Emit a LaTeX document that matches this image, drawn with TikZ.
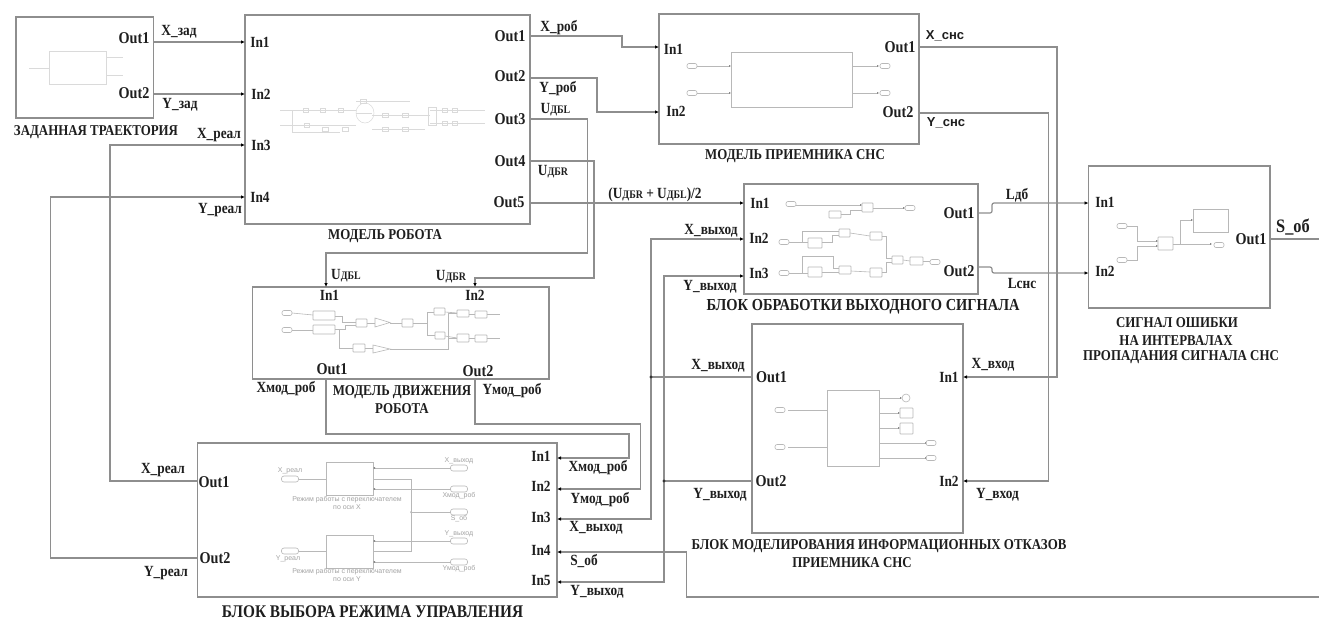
\documentclass[tikz,border=0pt]{standalone}
\usepackage{fontspec}
\setmainfont{Liberation Serif}
\setsansfont{Liberation Sans}
\newfontfamily\condf[FakeStretch=0.86]{Liberation Serif}
\usetikzlibrary{arrows.meta,shapes.geometric}
\definecolor{wirec}{HTML}{8E8E8E}
\definecolor{faint}{HTML}{B8B8B8}
\definecolor{fainter}{HTML}{DADADA}
\definecolor{tinyc}{HTML}{A4A4A4}
\definecolor{inkc}{HTML}{1E1E1E}
\tikzset{
  blockbox/.style={draw=wirec,line width=1.3pt,fill=none,inner sep=0pt,outer sep=0pt},
  wire/.style={draw=wirec,line width=1.2pt,line join=miter},
  arrowwire/.style={wire,-{Latex[length=4pt,width=3.6pt,black]}},
  portlbl/.style={font=\condf\fontsize{15.5}{17}\selectfont\bfseries,text=inkc,inner sep=0pt},
  outlbl/.style={font=\condf\fontsize{16.5}{18}\selectfont\bfseries,text=inkc,inner sep=0pt},
  siglbl/.style={font=\condf\fontsize{15.5}{17}\selectfont\bfseries,text=inkc,inner sep=0pt},
  biglbl/.style={font=\condf\fontsize{19}{21}\selectfont\bfseries,text=inkc,inner sep=0pt},
  sanslbl/.style={font=\sffamily\fontsize{13}{15}\selectfont\bfseries,text=inkc,inner sep=0pt},
  caplbl/.style={font=\condf\fontsize{15}{17}\selectfont\bfseries,text=inkc,inner sep=0pt},
  capmid/.style={font=\condf\fontsize{16.8}{18}\selectfont\bfseries,text=inkc,inner sep=0pt},
  capbig/.style={font=\condf\fontsize{17.8}{20}\selectfont\bfseries,text=inkc,inner sep=0pt},
  tinylbl/.style={font=\sffamily\fontsize{7}{8}\selectfont,text=tinyc,inner sep=0pt},
  inner/.style={draw=faint,line width=0.6pt},
  innerb/.style={draw=fainter,line width=0.5pt},
  innerarrow/.style={inner,-{Latex[length=2pt,width=2pt,gray]}},
}
\newcommand{\blk}[5]{\node[blockbox,minimum width={(#4-#2)*1pt},minimum height={(#5-#3)*1pt}] (#1) at ({(#2+#4)/2},{(#3+#5)/2}) {};}
\newcommand{\lab}[5][portlbl]{\node[#1] (#2) at (#3,#4) {#5};}
\newcommand{\rr}[4]{\draw[inner,rounded corners=0.6pt] (#1,#2) rectangle (#3,#4);}
\newcommand{\ovl}[2]{\draw[inner,rounded corners=2pt] ({#1-5},{#2-2.5}) rectangle ({#1+5},{#2+2.5});}
\newcommand{\ovw}[2]{\draw[inner,rounded corners=2.5pt] ({#1-8.5},{#2-3}) rectangle ({#1+8.5},{#2+3});}
\newcommand{\fr}[4]{\draw[innerb] (#1,#2) rectangle (#3,#4);}
\newcommand{\UB}[1]{U{\fontsize{11.5}{12}\selectfont ДБ#1}}
\begin{document}
\begin{tikzpicture}[x=1pt,y=-1pt]
\useasboundingbox[fill=white] (0,0) rectangle (1319,619);

% blocks
\blk{traj}{16}{17}{153.5}{118}
\blk{robot}{245}{15}{530}{224}
\blk{recv}{659}{14}{919}{144}
\blk{proc}{744}{184}{978}{294}
\blk{err}{1088.5}{166}{1270}{308}
\blk{motion}{252.5}{287}{549}{379}
\blk{mode}{197.5}{443}{557}{597}
\blk{fail}{752}{324}{963}{533}

% ports
\coordinate (trajO1) at (153.5,42);
\coordinate (trajO2) at (153.5,94);
\coordinate (robI1) at (245,42);
\coordinate (robI2) at (245,94);
\coordinate (robI3) at (245,145);
\coordinate (robI4) at (245,197);
\coordinate (robO1) at (530,36);
\coordinate (robO2) at (530,78);
\coordinate (robO3) at (530,119);
\coordinate (robO4) at (530,161);
\coordinate (robO5) at (530,203);
\coordinate (recI1) at (659,47);
\coordinate (recI2) at (659,112);
\coordinate (recO1) at (919,47);
\coordinate (recO2) at (919,113);
\coordinate (proI1) at (744,203);
\coordinate (proI2) at (744,239);
\coordinate (proI3) at (744,276);
\coordinate (proO1) at (978,213);
\coordinate (proO2) at (978,267);
\coordinate (errI1) at (1088.5,203);
\coordinate (errI2) at (1088.5,273);
\coordinate (errO1) at (1270,239);
\coordinate (sigEnd) at (1319,239);
\coordinate (sigBack) at (1319,597);
\coordinate (motI1) at (326,287);
\coordinate (motI2) at (475,287);
\coordinate (motO1) at (326,379);
\coordinate (motO2) at (475,379);
\coordinate (modO1) at (197.5,481);
\coordinate (modO2) at (197.5,558);
\coordinate (modI1) at (557,458);
\coordinate (modI2) at (557,489);
\coordinate (modI3) at (557,519);
\coordinate (modI4) at (557,552);
\coordinate (modI5) at (557,582);
\coordinate (faiO1) at (752,377);
\coordinate (faiO2) at (752,481);
\coordinate (faiI1) at (963,377);
\coordinate (faiI2) at (963,481);
\coordinate (jX) at (651,377);
\coordinate (jY) at (664,481);

% connectors
\draw[arrowwire] (trajO1) -- (robI1);
\draw[arrowwire] (trajO2) -- (robI2);
\draw[arrowwire] (modO1) -- (110,481) -- (110,145) -- (robI3);
\draw[arrowwire] (modO2) -- (50.5,558) -- (50.5,197) -- (robI4);
\draw[arrowwire] (robO1) -- (622,36) -- (622,47) -- (recI1);
\draw[arrowwire] (robO2) -- (597,78) -- (597,112) -- (recI2);
\draw[arrowwire] (robO3) -- (587.5,119) -- (587.5,253) -- (326,253) -- (motI1);
\draw[arrowwire] (robO4) -- (594,161) -- (594,278) -- (475,278) -- (motI2);
\draw[arrowwire] (robO5) -- (proI1);
\draw[arrowwire,rounded corners=2pt] (proO1) -- (992,213) -- (992,203) -- (errI1);
\draw[arrowwire,rounded corners=2pt] (proO2) -- (992,267) -- (992,273) -- (errI2);
\draw[arrowwire] (recO1) -- (1057,47) -- (1057,377) -- (faiI1);
\draw[arrowwire] (recO2) -- (1048.5,113) -- (1048.5,481) -- (faiI2);
\draw[wire] (errO1) -- (sigEnd);
\draw[arrowwire] (sigBack) -- (686.5,597) -- (686.5,552) -- (modI4);
\draw[arrowwire] (motO1) -- (326,434) -- (629,434) -- (629,458) -- (modI1);
\draw[arrowwire] (motO2) -- (475,424) -- (640.5,424) -- (640.5,489) -- (modI2);
\draw[arrowwire] (jX) -- (651,519) -- (modI3);
\draw[arrowwire] (jX) -- (651,239) -- (proI2);
\draw[arrowwire] (jY) -- (664,582) -- (modI5);
\draw[arrowwire] (jY) -- (664,276) -- (proI3);
\draw[wire] (faiO1) -- (jX);
\draw[wire] (faiO2) -- (jY);
\fill[black!80] (jX) circle (1.6pt);
\fill[black!80] (jY) circle (1.6pt);

% ---- labels: trajectory
\lab[outlbl]{t1}{134}{38}{Out1}
\lab[outlbl]{t2}{134}{93}{Out2}
\lab[siglbl]{t3}{179}{32}{X\_зад}
\lab[siglbl]{t4}{180}{105}{Y\_зад}
\lab[caplbl]{t5}{96}{132}{ЗАДАННАЯ ТРАЕКТОРИЯ}
% robot
\lab{r1}{260}{42}{In1}
\lab{r2}{261}{94}{In2}
\lab{r3}{261}{145}{In3}
\lab{r4}{260}{197}{In4}
\lab[siglbl]{r5}{219}{135}{X\_реал}
\lab[siglbl]{r6}{220}{210}{Y\_реал}
\lab[outlbl]{r7}{510}{36}{Out1}
\lab[outlbl]{r8}{510}{76}{Out2}
\lab[outlbl]{r9}{510}{119}{Out3}
\lab[outlbl]{r10}{510}{161}{Out4}
\lab[outlbl]{r11}{509}{202}{Out5}
\lab[siglbl]{r12}{559}{28}{X\_роб}
\lab[siglbl]{r13}{558}{89}{Y\_роб}
\lab[siglbl]{r14}{555.5}{110}{\UB{L}}
\lab[siglbl]{r15}{553}{172}{\UB{R}}
\lab[siglbl]{r16}{655}{195}{(\UB{R} + \UB{L})/2}
\lab[caplbl]{r17}{385}{236}{МОДЕЛЬ РОБОТА}
% motion
\lab[siglbl]{m1}{346}{276}{\UB{L}}
\lab[siglbl]{m2}{451}{277}{\UB{R}}
\lab{m3}{329.5}{295}{In1}
\lab{m4}{475}{295}{In2}
\lab[outlbl]{m5}{332}{369}{Out1}
\lab[outlbl]{m6}{478}{371}{Out2}
\lab[siglbl]{m7}{286}{389}{Xмод\_роб}
\lab[siglbl]{m8}{512}{391}{Yмод\_роб}
\lab[caplbl]{m9}{402}{392}{МОДЕЛЬ ДВИЖЕНИЯ}
\lab[caplbl]{m10}{402}{409}{РОБОТА}
% mode
\lab{g1}{541}{456}{In1}
\lab{g2}{541}{486}{In2}
\lab{g3}{541}{517}{In3}
\lab{g4}{541}{550}{In4}
\lab{g5}{541}{580}{In5}
\lab[siglbl]{g6}{598}{468}{Xмод\_роб}
\lab[siglbl]{g7}{600}{500}{Yмод\_роб}
\lab[siglbl]{g8}{596}{528}{X\_выход}
\lab[siglbl]{g9}{584}{561}{S\_об}
\lab[siglbl]{g10}{597}{592}{Y\_выход}
\lab[outlbl]{g11}{214}{482}{Out1}
\lab[outlbl]{g12}{215}{558}{Out2}
\lab[siglbl]{g13}{163}{470}{X\_реал}
\lab[siglbl]{g14}{166}{573}{Y\_реал}
\lab[capbig]{g15}{372.5}{612}{БЛОК ВЫБОРА РЕЖИМА УПРАВЛЕНИЯ}
% receiver
\lab{c1}{673.5}{49}{In1}
\lab{c2}{676}{111}{In2}
\lab[outlbl]{c3}{900}{47}{Out1}
\lab[outlbl]{c4}{898}{112}{Out2}
\lab[sanslbl]{c5}{945}{36}{X\_снс}
\lab[sanslbl]{c6}{946}{123}{Y\_снс}
\lab[caplbl]{c7}{795}{156}{МОДЕЛЬ ПРИЕМНИКА СНС}
% processing
\lab{d1}{760}{203}{In1}
\lab{d2}{759}{238}{In2}
\lab{d3}{759}{273}{In3}
\lab[outlbl]{d4}{959}{213}{Out1}
\lab[outlbl]{d5}{959}{271}{Out2}
\lab[siglbl]{d6}{711}{231}{X\_выход}
\lab[siglbl]{d7}{710}{287}{Y\_выход}
\lab[capmid]{d8}{863}{307}{БЛОК ОБРАБОТКИ ВЫХОДНОГО СИГНАЛА}
\lab[siglbl]{d9}{1017}{195}{Lдб}
\lab[siglbl]{d10}{1022}{283}{Lснс}
% error
\lab{e1}{1105}{202}{In1}
\lab{e2}{1105}{271}{In2}
\lab[outlbl]{e3}{1251}{239}{Out1}
\lab[biglbl]{e4}{1293}{227}{S\_об}
\lab[caplbl]{e5}{1177}{323}{СИГНАЛ ОШИБКИ}
\lab[caplbl]{e6}{1176}{341}{НА ИНТЕРВАЛАХ}
\lab[caplbl]{e7}{1181}{357}{ПРОПАДАНИЯ СИГНАЛА СНС}
% failure
\lab[outlbl]{f1}{771.5}{377}{Out1}
\lab[outlbl]{f2}{771}{481}{Out2}
\lab{f3}{949}{377}{In1}
\lab{f4}{949}{481}{In2}
\lab[siglbl]{f5}{718}{366}{X\_выход}
\lab[siglbl]{f6}{720}{495}{Y\_выход}
\lab[siglbl]{f7}{993}{365}{X\_вход}
\lab[siglbl]{f8}{997.5}{495}{Y\_вход}
\lab[caplbl]{f9}{879}{546}{БЛОК МОДЕЛИРОВАНИЯ ИНФОРМАЦИОННЫХ ОТКАЗОВ}
\lab[caplbl]{f10}{852}{563}{ПРИЕМНИКА СНС}

% ---- inner sketches
% trajectory
\draw[innerb,line width=0.8pt] (49,51) rectangle (106,84);
\draw[innerb] (29,68) -- (49,68);
\draw[innerb] (106,57) -- (123,57);
\draw[innerb] (106,75) -- (123,75);
% receiver
\draw[inner,line width=0.8pt] (731,52) rectangle (852,107);
\draw[innerarrow] (697,66) -- (731,66);
\draw[innerarrow] (697,93) -- (731,93);
\draw[innerarrow] (852,66) -- (879,66);
\draw[innerarrow] (852,93) -- (879,93);
\ovl{692}{66}\ovl{692}{93}\ovl{885}{66}\ovl{885}{93}
% failure
\draw[inner,line width=0.8pt] (827,390) rectangle (879,466);
\draw[inner] (788,410) -- (827,410);
\draw[inner] (788,447) -- (827,447);
\ovl{780}{410}\ovl{780}{447}
\draw[innerarrow] (879,398) -- (902,398);
\draw[inner] (906,398) circle (4pt);
\draw[innerarrow] (879,413) -- (900,413);
\draw[innerarrow] (879,428) -- (900,428);
\rr{900}{408}{913}{418}\rr{900}{423}{913}{434}
\draw[innerarrow] (879,443) -- (927,443);
\draw[innerarrow] (879,458) -- (927,458);
\ovl{931}{443}\ovl{931}{458}
% error
\draw[inner,line width=0.8pt] (1193,209) rectangle (1228,232);
\rr{1158}{237}{1173}{250}
\ovl{1122}{226}\ovl{1122}{260}
\draw[innerarrow] (1127,226) -- (1137,226) -- (1137,241) -- (1158,241);
\draw[innerarrow] (1127,260) -- (1137,260) -- (1137,246) -- (1158,246);
\draw[inner] (1173,244) -- (1180,244);
\draw[innerarrow] (1180,244) -- (1180,220) -- (1193,220);
\draw[innerarrow] (1180,244) -- (1212,244);
\ovl{1219}{245}
% processing
\ovl{791}{204}\rr{862}{203}{873}{212}\rr{829}{211}{841}{218}\ovl{910}{208}
\draw[innerarrow] (796,205) -- (862,205);
\draw[inner] (841,214) -- (850,214) -- (850,210) -- (862,210);
\draw[innerarrow] (873,208) -- (905,208);
\ovl{784}{242}\ovl{784}{273}
\rr{808}{238}{822}{248}\rr{839}{229}{850}{237}\rr{870}{232}{882}{240}
\rr{808}{267}{822}{277}\rr{839}{266}{851}{274}\rr{870}{268}{882}{277}
\rr{892}{256}{903}{264}\rr{910}{257}{923}{265}\ovl{935}{262}
\draw[inner] (789,242) -- (808,242);
\draw[inner] (802,242) -- (802,231) -- (839,231);
\draw[inner] (822,242) -- (832,242) -- (832,235) -- (839,235);
\draw[inner] (850,233) -- (870,236);
\draw[inner] (882,236) -- (886,236) -- (886,258) -- (892,258);
\draw[inner] (789,273) -- (808,273);
\draw[inner] (802,273) -- (802,256) -- (833,256) -- (833,268) -- (839,268);
\draw[inner] (822,272) -- (839,272);
\draw[inner] (851,271) -- (870,272);
\draw[inner] (882,272) -- (886,272) -- (886,262) -- (892,262);
\draw[inner] (903,260) -- (910,261);
\draw[inner] (923,261) -- (930,261);
% motion
\ovl{287}{313}\ovl{287}{330}
\rr{313}{311}{335}{320}\rr{313}{325}{335}{334}
\rr{356}{319}{367}{327}\rr{402}{319}{413}{327}
\draw[inner] (375,318) -- (390,322.5) -- (375,327) -- cycle;
\draw[inner] (373,345) -- (390,349) -- (373,353) -- cycle;
\rr{353}{344}{365}{352}
\rr{434}{308}{445}{315}\rr{435}{332}{445}{339}
\rr{457}{310}{469}{317}\rr{475}{311}{487}{318}
\rr{457}{334}{469}{342}\rr{475}{335}{487}{342}
\draw[inner] (292,313) -- (313,315);
\draw[inner] (292,330) -- (313,330);
\draw[inner] (335,316) -- (342,316) -- (342,322) -- (356,322);
\draw[inner] (335,329) -- (345,329) -- (345,325) -- (356,325);
\draw[inner] (339,329) -- (339,348) -- (353,348);
\draw[inner] (367,323) -- (375,323);
\draw[inner] (390,323) -- (402,323);
\draw[inner] (413,323) -- (427,323);
\draw[inner] (434,312) -- (427,312) -- (427,335) -- (435,335);
\draw[inner] (365,348) -- (373,348);
\draw[inner] (390,349) -- (448,349) -- (448,313) -- (457,313);
\draw[inner] (448,338) -- (457,338);
\draw[inner] (445,312) -- (457,313);
\draw[inner] (445,336) -- (457,338);
\draw[inner] (469,314) -- (475,314);
\draw[inner] (469,338) -- (475,338);
\draw[inner] (487,314) -- (500,314);
\draw[inner] (487,338) -- (500,338);
% mode
\draw[inner,line width=0.8pt] (326,462) rectangle (373,495);
\draw[inner,line width=0.8pt] (326,535) rectangle (373,568);
\ovw{290}{479}\ovw{290}{551}
\draw[inner] (326,479) -- (299,479);
\draw[inner] (326,551) -- (299,551);
\draw[innerarrow] (451,468) -- (373,468);
\draw[innerarrow] (451,489) -- (373,489);
\draw[innerarrow] (451,541) -- (373,541);
\draw[innerarrow] (451,562) -- (373,562);
\draw[inner] (373,479) -- (411,479) -- (411,551) -- (373,551);
\draw[inner] (411,512) -- (451,512);
\fill[faint] (411,512) circle (1pt);
\ovw{459}{468}\ovw{459}{489}\ovw{459}{512}\ovw{459}{541}\ovw{459}{562}
\node[tinylbl] (q1) at (347,500) {Режим работы с переключателем};
\node[tinylbl] (q2) at (347,507) {по оси X};
\node[tinylbl] (q3) at (347,572) {Режим работы с переключателем};
\node[tinylbl] (q4) at (347,579) {по оси Y};
\node[tinylbl] (q5) at (290,471) {X\_реал};
\node[tinylbl] (q6) at (288,559) {Y\_реал};
\node[tinylbl] (q7) at (459,461) {X\_выход};
\node[tinylbl] (q8) at (459,496) {Xмод\_роб};
\node[tinylbl] (q9) at (459,519) {S\_об};
\node[tinylbl] (q10) at (459,534) {Y\_выход};
\node[tinylbl] (q11) at (459,569) {Yмод\_роб};
% robot (faint)
\foreach \a/\b/\c/\d in {280/110/356/110,280/125/300/125,292/110/292/132,292/132/340/132,300/125/356/125,356/101/410/101,356/113/372/113,372/115/430/115,372/129/425/129,430/110/485/110,430/123/485/123}
  {\draw[innerb] (\a,\b) -- (\c,\d);}
\fr{303}{108}{308}{112}\fr{320}{108}{325}{112}\fr{338}{108}{343}{112}
\fr{304}{123}{309}{127}\fr{322}{127}{328}{131}\fr{342}{127}{348}{131}
\fr{360}{99}{366}{103}
\draw[innerb] (365,113) ellipse (9pt and 10pt);
\fr{382}{113}{388}{117}\fr{402}{113}{408}{117}
\fr{382}{127}{388}{131}\fr{402}{127}{408}{131}
\fr{428}{107}{436}{125}
\fr{442}{108}{447}{112}\fr{452}{108}{457}{112}
\fr{442}{121}{447}{125}\fr{452}{121}{457}{125}
\end{tikzpicture}
\end{document}
